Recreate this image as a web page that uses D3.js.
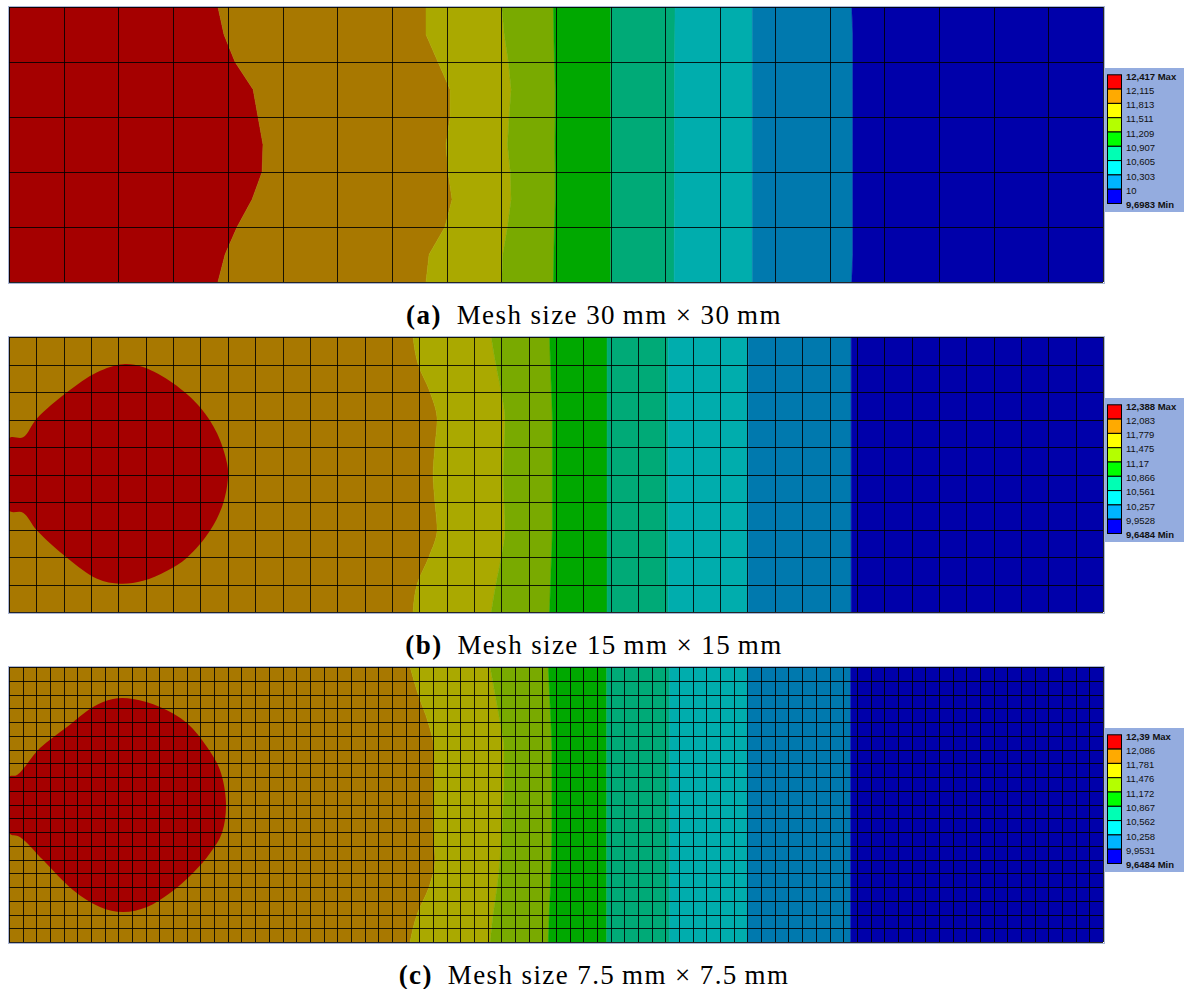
<!DOCTYPE html>
<html>
<meta charset="utf-8">
<title>Mesh size study</title>
<style>
  body { margin: 0; background: #fff; }
  .mesh line { stroke: #000; stroke-width: 1; stroke-opacity: 0.85; shape-rendering: crispEdges; }
  .legend text { font: 9.5px "Liberation Sans", Arial, sans-serif; fill: #111; dominant-baseline: central; }
  .legend .ext { font-weight: bold; }
  .caption { font-family: "Liberation Serif", serif; font-size: 27px; letter-spacing: 1.4px; fill: #000; }
</style>
<body>
<div id="chart"></div>
<script src="https://d3js.org/d3.v7.min.js"></script>
<script>
// plate is 600 mm x 150 mm, boundaries between contour bands are read off the
// picture at these heights (mm from the top edge)
var yLevels = [0, 15, 30, 45, 60, 75, 90, 105, 120, 135, 150];

var meshSize = [30, 15, 7.5];
var caseLabel = ["(a)", "(b)", "(c)"];
var captionText = [
  "Mesh size 30\u2009mm \u00d7 30\u2009mm",
  "Mesh size 15\u2009mm \u00d7 15\u2009mm",
  "Mesh size 7.5\u2009mm \u00d7 7.5\u2009mm"
];

// legend labels, top to bottom
var legendA = ["12,417 Max", "12,115", "11,813", "11,511", "11,209", "10,907", "10,605", "10,303", "10", "9,6983 Min"];
var legendB = ["12,388 Max", "12,083", "11,779", "11,475", "11,17", "10,866", "10,561", "10,257", "9,9528", "9,6484 Min"];
var legendC = ["12,39 Max", "12,086", "11,781", "11,476", "11,172", "10,867", "10,562", "10,258", "9,9531", "9,6484 Min"];

var legendColors = ["#ff0000", "#ffaa00", "#ffff00", "#b4ff00", "#00ff00", "#00ffb4", "#00ffff", "#00b4ff", "#0000ff"];
var bandColors   = ["#a50000", "#a87800", "#aaa900", "#79aa00", "#00a800", "#00aa77", "#00adad", "#0079ae", "#0000aa"];

// band boundaries (x in mm), red|orange, orange|yellow, ... , lightblue|blue
var boundsA = [
  [114.6, 117.9, 124.0, 133.9, 136.6, 139.3, 138.8, 133.3, 125.1, 118.5, 114.6],
  [228.7, 228.7, 235.3, 241.9, 241.9, 239.7, 240.8, 243.0, 239.1, 230.4, 228.7],
  [270.2, 271.6, 273.9, 275.4, 274.3, 273.4, 275.0, 275.4, 273.4, 270.8, 270.2],
  [298.6, 298.8, 299.2, 299.6, 299.6, 299.4, 299.6, 299.6, 299.2, 298.8, 298.6],
  [330.0, 330.0, 330.0, 330.0, 330.0, 330.0, 330.0, 330.0, 330.0, 330.0, 330.0],
  [365.3, 365.2, 365.1, 365.0, 365.0, 365.0, 365.0, 365.0, 364.9, 364.8, 364.8],
  [407.7, 407.7, 407.7, 407.7, 407.7, 407.7, 407.7, 407.7, 407.7, 407.7, 407.7],
  [462.2, 462.8, 462.8, 462.8, 462.8, 462.8, 462.8, 462.8, 462.8, 462.8, 462.2]
];
var boundsB = [
  null,
  [221.6, 224.4, 230.9, 234.8, 233.6, 232.6, 233.6, 234.8, 230.3, 223.8, 221.6],
  [264.5, 267.0, 270.0, 272.0, 271.5, 271.0, 271.5, 272.0, 270.0, 267.0, 264.5],
  [296.5, 297.0, 297.5, 298.0, 298.0, 298.0, 298.0, 298.0, 297.5, 297.0, 296.5],
  [328.0, 328.0, 328.0, 328.0, 328.0, 328.0, 328.0, 328.0, 328.0, 328.0, 328.0],
  [361.5, 361.5, 361.5, 361.5, 361.5, 361.5, 361.5, 361.5, 361.5, 361.5, 361.5],
  [405.4, 405.4, 405.4, 405.4, 405.4, 405.4, 405.4, 405.4, 405.4, 405.4, 405.4],
  [461.9, 461.9, 461.9, 461.9, 461.9, 461.9, 461.9, 461.9, 461.9, 461.9, 461.9]
];
var boundsC = [
  null,
  [220.0, 224.4, 229.8, 233.1, 233.1, 232.6, 232.6, 233.7, 230.4, 223.8, 220.0],
  [263.9, 266.6, 269.3, 271.5, 271.5, 271.0, 270.4, 269.3, 267.7, 265.5, 263.9],
  [295.8, 296.5, 297.2, 297.7, 297.7, 297.7, 297.7, 297.5, 297.0, 296.3, 295.8],
  [327.8, 327.8, 327.8, 327.8, 327.8, 327.8, 327.8, 327.8, 327.8, 327.8, 327.8],
  [362.4, 362.4, 362.4, 362.4, 362.4, 362.4, 362.4, 362.4, 362.4, 362.4, 362.4],
  [405.2, 405.2, 405.2, 405.2, 405.2, 405.2, 405.2, 405.2, 405.2, 405.2, 405.2],
  [461.6, 461.6, 461.6, 461.6, 461.6, 461.6, 461.6, 461.6, 461.6, 461.6, 461.6]
];

// max region (red) on the finer meshes, outline points [x mm, y mm]
var blobB = [
  [0, 55.3], [7.7, 54.7], [15.4, 44.3], [31.8, 30.1], [48.3, 19.2], [62.5, 14.8],
  [73.5, 16.4], [90, 25.2], [104.8, 38.3], [114.1, 52.5], [119.6, 69], [120.1, 76.6],
  [117.4, 90.9], [110.3, 105.6], [97.6, 120.4], [86.7, 127.5], [73.5, 133], [60.9, 134.6],
  [48.3, 131.9], [31.8, 120.4], [15.4, 105.6], [7.7, 95.8], [0, 94.7]
];
var blobC = [
  [0, 60], [4.4, 58.9], [17, 44.2], [31.8, 32.7], [46.1, 21.8], [57, 17.4],
  [68, 17.4], [82.8, 21.8], [97.6, 30.5], [108.6, 43.6], [115.7, 56.2], [119, 74.2],
  [116.8, 90.5], [110.3, 101.5], [100.9, 112.4], [88.3, 123.3], [75.7, 130.9], [62.5, 133.7],
  [49.9, 130.9], [35.1, 121.6], [18.7, 105.3], [6, 92.7], [0, 90.5]
];

var panels = [
  { bounds: boundsA, blob: null,  legend: legendA, curve: d3.curveLinear },
  { bounds: boundsB, blob: blobB, legend: legendB, curve: d3.curveMonotoneY },
  { bounds: boundsC, blob: blobC, legend: legendC, curve: d3.curveMonotoneY }
];

var width = 1184, height = 989;
var panelTop = [7, 337, 667];
var plotLeft = 9, plotW = 1094, plotH = 275;

var x = d3.scaleLinear().domain([0, 600]).range([0, plotW]);
var y = d3.scaleLinear().domain([0, 150]).range([0, plotH]);

var svg = d3.select("#chart")
            .append("svg")
            .attr("width", width)
            .attr("height", height);

panels.forEach(function(p, i) {
  var g = svg.append("g")
      .attr("transform", "translate(" + plotLeft + "," + panelTop[i] + ")");

  g.append("clipPath")
      .attr("id", "clip" + i)
    .append("rect")
      .attr("width", plotW)
      .attr("height", plotH);

  var bands = g.append("g").attr("clip-path", "url(#clip" + i + ")");

  // vertical contour bands
  for (var k = 0; k < 9; k++) {
    var left = k === 0 ? null : p.bounds[k - 1];
    var right = k === 8 ? null : p.bounds[k];
    if (k < 8 && right === null) continue;
    var area = d3.area()
        .curve(p.curve)
        .y(function(d, j) { return y(d); })
        .x0((function(l) { return function(d, j) { return x(l ? l[j] : 0); }; })(left))
        .x1((function(r) { return function(d, j) { return x(r ? r[j] : 600); }; })(right));
    bands.append("path")
        .attr("d", area(yLevels))
        .attr("fill", bandColors[k])
        .attr("stroke", bandColors[k])
        .attr("stroke-width", 0.5);
  }

  if (p.blob) {
    bands.append("path")
        .datum(p.blob)
        .attr("d", d3.line()
          .curve(d3.curveCatmullRomClosed.alpha(0.5))
          .x(function(d) { return x(d[0]); })
          .y(function(d) { return y(d[1]); }))
        .attr("fill", bandColors[0]);
  }

  // element mesh
  var cols = d3.range(0, 600 + 1e-6, meshSize[i]);
  var rows = d3.range(0, 150 + 1e-6, meshSize[i]);
  var mesh = g.append("g").attr("class", "mesh");
  mesh.selectAll("line.v")
      .data(cols)
    .enter().append("line")
      .attr("class", "v")
      .attr("x1", function(d) { return Math.round(x(d)) + 0.5; })
      .attr("x2", function(d) { return Math.round(x(d)) + 0.5; })
      .attr("y1", 0)
      .attr("y2", plotH);
  mesh.selectAll("line.h")
      .data(rows)
    .enter().append("line")
      .attr("class", "h")
      .attr("y1", function(d) { return Math.round(y(d)) + 0.5; })
      .attr("y2", function(d) { return Math.round(y(d)) + 0.5; })
      .attr("x1", 0)
      .attr("x2", plotW);

  g.append("rect")
      .attr("x", -0.5)
      .attr("y", -0.5)
      .attr("width", plotW + 2)
      .attr("height", plotH + 2)
      .attr("fill", "none")
      .attr("stroke", "#a9b6d8");

  // legend
  var lg = svg.append("g")
      .attr("class", "legend")
      .attr("transform", "translate(1105," + (panelTop[i] + 61) + ")");
  var bandH = 14.3;
  lg.append("rect")
      .attr("width", 80)
      .attr("height", 144)
      .attr("fill", "#94acdf");
  lg.selectAll("rect.sw")
      .data(legendColors)
    .enter().append("rect")
      .attr("class", "sw")
      .attr("x", 2.5)
      .attr("y", function(d, k) { return 6.8 + k * bandH; })
      .attr("width", 14)
      .attr("height", bandH)
      .attr("fill", function(d) { return d; })
      .attr("stroke", "#000")
      .attr("stroke-width", 1);
  lg.selectAll("text")
      .data(p.legend)
    .enter().append("text")
      .attr("class", function(d, k) { return (k === 0 || k === 9) ? "ext" : null; })
      .attr("x", 21)
      .attr("y", function(d, k) { return 8 + k * bandH; })
      .text(function(d) { return d; });

  // caption
  var cap = svg.append("text")
      .attr("class", "caption")
      .attr("x", 594)
      .attr("y", panelTop[i] + plotH + 42)
      .attr("text-anchor", "middle");
  cap.append("tspan").attr("font-weight", "bold").text(caseLabel[i]);
  cap.append("tspan").text("\u2002" + captionText[i]);
});
</script>
</body>
</html>
